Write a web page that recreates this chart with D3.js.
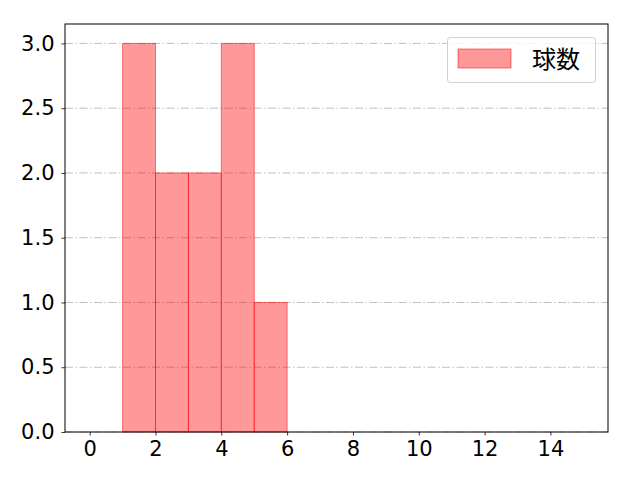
<!DOCTYPE html>
<html>
<head>
<meta charset="utf-8">
<script src="https://cdn.jsdelivr.net/npm/d3@7"></script>
<style>
body { margin: 0; background: #fff; }
text { font-family: "DejaVu Sans", sans-serif; }
</style>
</head>
<body>
<script>
// histogram bins and counts
const binStarts = [0, 1, 2, 3, 4, 5, 6, 7, 8, 9, 10, 11, 12, 13, 14];
const counts = [0, 3, 2, 2, 3, 1, 0, 0, 0, 0, 0, 0, 0, 0, 0];
const xTicks = [0, 2, 4, 6, 8, 10, 12, 14];
const yTicks = [0, 0.5, 1, 1.5, 2, 2.5, 3];
const seriesName = "球数";

const width = 640, height = 480;
const mLeft = 65, mRight = 608, mTop = 24, mBottom = 432;

const svg = d3.select('body')
    .append('svg')
    .attr('width', width)
    .attr('height', height);

const x = d3.scaleLinear().domain([-0.75, 15.75]).range([mLeft, mRight]);
const y = d3.scaleLinear().domain([0, 3.15]).range([mBottom, mTop]);

// grid
svg.selectAll('line.grid')
    .data(yTicks)
    .enter()
    .append('line')
    .attr('class', 'grid')
    .attr('x1', mLeft).attr('x2', mRight)
    .attr('y1', d => y(d)).attr('y2', d => y(d))
    .attr('stroke', '#b0b0b0')
    .attr('stroke-width', 0.8)
    .attr('stroke-dasharray', '8,2.5,1.5,2.5');

// bars
svg.selectAll('rect.bar')
    .data(binStarts.map((b, i) => ({ b, c: counts[i] })).filter(d => d.c > 0))
    .enter()
    .append('rect')
    .attr('class', 'bar')
    .attr('x', d => x(d.b))
    .attr('width', d => x(d.b + 1) - x(d.b))
    .attr('y', d => y(d.c))
    .attr('height', d => y(0) - y(d.c))
    .attr('fill', 'rgba(255,0,0,0.4)')
    .attr('stroke', 'rgba(255,0,0,0.5)')
    .attr('stroke-width', 1);

// axes
const xAxis = svg.append('g')
    .attr('transform', `translate(0,${mBottom})`)
    .call(d3.axisBottom(x).tickValues(xTicks).tickSize(3.5).tickPadding(6).tickFormat(d3.format('d')));
const yAxis = svg.append('g')
    .attr('transform', `translate(${mLeft},0)`)
    .call(d3.axisLeft(y).tickValues(yTicks).tickSize(3.5).tickPadding(7).tickFormat(d3.format('.1f')));
[xAxis, yAxis].forEach(a => {
    a.attr('font-size', null).attr('font-family', null);
    a.selectAll('text').style('font-size', '21px').attr('fill', '#000').style('font-family', '"DejaVu Sans", sans-serif');
    a.selectAll('line').attr('stroke', '#000').attr('stroke-width', 0.8);
    a.select('.domain').remove();
});

// frame
svg.append('rect')
    .attr('x', mLeft).attr('y', mTop)
    .attr('width', mRight - mLeft).attr('height', mBottom - mTop)
    .attr('fill', 'none')
    .attr('stroke', '#000')
    .attr('stroke-width', 1);

// legend
const lg = svg.append('g');
lg.append('rect')
    .attr('x', 447.5).attr('y', 37.5).attr('width', 148).attr('height', 45)
    .attr('rx', 3)
    .attr('fill', 'rgba(255,255,255,0.8)')
    .attr('stroke', '#d0d0d0');
lg.append('rect')
    .attr('x', 458).attr('y', 49).attr('width', 53).attr('height', 19)
    .attr('fill', 'rgba(255,0,0,0.4)')
    .attr('stroke', 'rgba(255,0,0,0.5)');
lg.append('text')
    .attr('x', 532).attr('y', 68)
    .style('font-size', '24px')
    .style('font-family', '"Noto Sans CJK JP", sans-serif')
    .text(seriesName);
</script>
</body>
</html>
